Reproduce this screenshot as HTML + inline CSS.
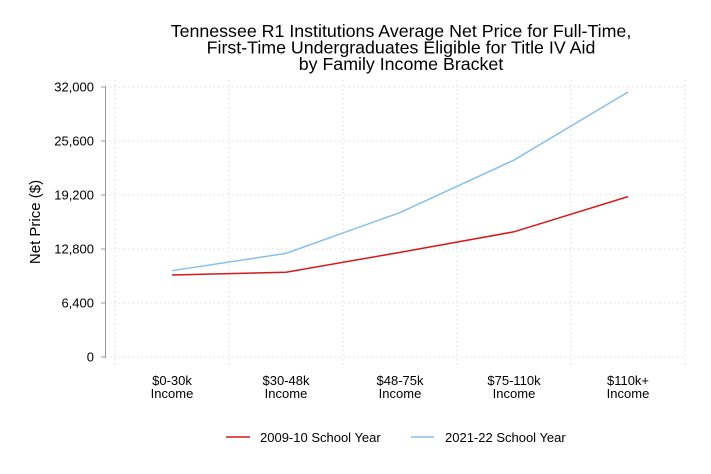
<!DOCTYPE html>
<html><head><meta charset="utf-8"><style>
body{margin:0;background:#fff;}
svg{display:block;font-family:"Liberation Sans",Arial,sans-serif;}
</style></head><body>
<svg id="chart" width="711" height="474" viewBox="0 0 711 474">
<g font-size="17.8" text-anchor="middle" fill="#000">
<text x="401" y="37">Tennessee R1 Institutions Average Net Price for Full-Time,</text>
<text x="401" y="53.5">First-Time Undergraduates Eligible for Title IV Aid</text>
<text x="401" y="70">by Family Income Bracket</text>
</g>
<text transform="translate(40,222) rotate(-90)" text-anchor="middle" font-size="15">Net Price ($)</text>
<g id="grid"></g><g id="axes"></g><g id="series"></g>
<g font-size="13">
<g><line x1="226" y1="437" x2="250" y2="437" stroke="#d7191c" stroke-width="1.5"/><text x="260" y="442">2009-10 School Year</text></g>
<g><line x1="411" y1="437" x2="434" y2="437" stroke="#88c0e8" stroke-width="1.5"/><text x="445" y="442">2021-22 School Year</text></g>
</g>
</svg>
<script>
const categories=["$0-30k","$30-48k","$48-75k","$75-110k","$110k+"];
const series2009=[9720,10040,12400,14840,19010];
const series2021=[10230,12280,17120,23340,31410];
const yTicks=[0,6400,12800,19200,25600,32000];
const NS="http://www.w3.org/2000/svg";
const X0=172,DX=114,Y0=357,YT=87,YMAX=32000;
function xs(i){return X0+i*DX;}
function ys(v){return Y0-(v/YMAX)*(Y0-YT);}
function mk(t,a,p){const e=document.createElementNS(NS,t);for(const k in a)e.setAttribute(k,a[k]);p.appendChild(e);return e;}
const grid=document.getElementById('grid'),axes=document.getElementById('axes'),ser=document.getElementById('series');
yTicks.forEach(v=>{
 const l=mk('line',{x1:110,x2:686,y1:ys(v),y2:ys(v),stroke:'#ddd','stroke-dasharray':'1.5,3'},grid);
 
 
 const t=mk('line',{x1:101,x2:106,y1:ys(v),y2:ys(v),stroke:'#999'},axes);
 
 
 const tx=mk('text',{x:94,y:ys(v)+4.5,'text-anchor':'end','font-size':13},axes);
 tx.textContent=v.toLocaleString('en-US');
 
 
});
for(let i=0;i<=categories.length;i++){
 const x=X0-DX/2+i*DX;
 const l=mk('line',{x1:x,x2:x,y1:80,y2:368,stroke:'#ddd','stroke-dasharray':'1.5,3'},grid);
 
 
}
const ax=mk('line',{x1:105.5,x2:105.5,y1:86,y2:358,stroke:'#999'},axes);


categories.forEach((c,i)=>{
 const t=mk('text',{x:xs(i),y:385,'text-anchor':'middle','font-size':13},axes);
 
 
 mk('tspan',{x:xs(i),dy:0},t).textContent=c;
 mk('tspan',{x:xs(i),dy:13},t).textContent='Income';
});
function draw(d,col,name){
 const p=mk('polyline',{points:d.map((v,i)=>xs(i)+','+ys(v)).join(' '),fill:'none',stroke:col,'stroke-width':1.5},ser);
 
 
}
draw(series2021,'#88c0e8','line-2021-22');
draw(series2009,'#d7191c','line-2009-10');
</script>
</body></html>
